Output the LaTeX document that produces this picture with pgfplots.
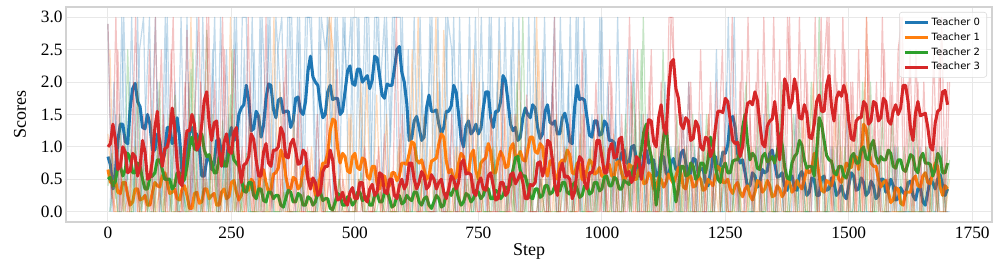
\documentclass[border=0pt]{standalone}
\usepackage{pgfplots}
\usepackage{pgfplotstable}
\pgfplotsset{compat=1.18}
\usepackage{fontspec}
\setmainfont{Liberation Serif}
\newfontfamily\legfont{DejaVu Sans}
\definecolor{c0}{HTML}{1F77B4}
\definecolor{c1}{HTML}{FF7F0E}
\definecolor{c2}{HTML}{2CA02C}
\definecolor{c3}{HTML}{D62728}

\pgfplotstableread[row sep=\\]{
step t0 t1 t2 t3\\
0 0.85 0.65 0.5 1.0\\
5 0.72 0.45 0.53 1.05\\
10 0.35 0.45 0.4 1.35\\
15 0.60 0.48 0.47 1.12\\
20 1.1 0.3 0.7 0.65\\
25 1.35 0.28 0.70 0.70\\
30 1.35 0.45 0.55 1.0\\
35 1.08 0.45 0.65 0.92\\
40 1.05 0.25 0.9 0.6\\
45 1.60 0.10 0.83 0.63\\
50 1.9 0.15 0.6 0.9\\
55 1.98 0.35 0.60 0.85\\
60 1.7 0.35 0.75 0.55\\
65 1.62 0.18 0.70 0.70\\
70 1.3 0.2 0.5 1.1\\
75 1.28 0.25 0.35 0.92\\
80 1.5 0.1 0.35 0.5\\
85 1.35 0.10 0.53 0.53\\
90 0.95 0.3 0.55 0.8\\
95 0.95 0.45 0.60 1.30\\
100 1.2 0.4 0.8 1.55\\
105 1.10 0.38 0.80 1.0\\
110 0.75 0.55 0.65 0.7\\
115 0.90 0.60 0.50 0.97\\
120 1.3 0.45 0.5 1.0\\
125 1.30 0.28 0.50 1.18\\
130 1.05 0.3 0.35 1.6\\
135 1.13 0.35 0.40 1.30\\
140 1.45 0.2 0.6 0.75\\
145 1.15 0.18 0.60 0.45\\
150 0.6 0.35 0.45 0.4\\
155 0.63 0.40 0.50 0.95\\
160 0.9 0.25 0.7 1.25\\
165 1.22 0.05 1.0 1.25\\
170 1.3 0.05 1.15 1.5\\
175 1.13 0.28 0.97 1.35\\
180 1.2 0.3 0.95 0.95\\
185 1.0 0.13 1.15 1.03\\
190 0.55 0.15 1.2 1.35\\
195 0.55 0.35 0.95 1.72\\
200 0.8 0.35 0.85 1.85\\
205 0.85 0.20 0.88 1.35\\
210 0.65 0.25 0.75 1.1\\
215 0.75 0.28 0.60 1.37\\
220 1.1 0.1 0.6 1.4\\
225 1.12 0.10 0.83 0.93\\
230 0.9 0.3 0.9 0.7\\
235 0.70 0.35 0.72 1.07\\
240 0.75 0.2 0.7 1.2\\
245 1.15 0.23 0.93 0.93\\
250 1.3 0.45 1.0 0.9\\
255 1.10 0.48 0.80 1.22\\
260 1.15 0.3 0.75 1.3\\
265 1.50 0.18 0.70 0.75\\
270 1.6 0.25 0.5 0.45\\
275 1.65 0.40 0.32 0.72\\
280 1.95 0.35 0.3 0.75\\
285 1.72 0.33 0.45 0.85\\
290 1.25 0.5 0.45 1.2\\
295 1.28 0.45 0.25 1.12\\
300 1.55 0.2 0.2 0.8\\
305 1.47 0.33 0.35 0.55\\
310 1.15 0.65 0.35 0.55\\
315 1.33 0.65 0.17 0.92\\
320 1.75 0.45 0.15 1.05\\
325 1.97 0.30 0.30 0.75\\
330 1.95 0.35 0.3 0.7\\
335 1.58 0.58 0.20 0.95\\
340 1.45 0.6 0.25 0.95\\
345 1.72 0.68 0.25 1.0\\
350 1.75 0.95 0.1 1.3\\
355 1.53 0.85 0.07 1.20\\
360 1.55 0.55 0.2 0.85\\
365 1.55 0.35 0.33 0.83\\
370 1.3 0.35 0.3 1.05\\
375 1.40 0.53 0.15 1.12\\
380 1.75 0.5 0.15 0.95\\
385 1.77 0.35 0.28 0.73\\
390 1.55 0.4 0.25 0.75\\
395 1.50 0.65 0.10 0.95\\
400 1.7 0.7 0.1 0.9\\
405 2.17 0.50 0.23 0.50\\
410 2.4 0.5 0.2 0.35\\
415 2.08 0.48 0.10 0.52\\
420 2.0 0.25 0.15 0.45\\
425 1.95 0.30 0.30 0.25\\
430 1.65 0.55 0.3 0.3\\
435 1.45 0.75 0.17 0.62\\
440 1.5 0.75 0.2 0.7\\
445 1.85 0.90 0.20 0.70\\
450 1.95 1.25 0.05 0.95\\
455 1.73 1.43 0.03 0.80\\
460 1.75 1.4 0.15 0.4\\
465 1.75 0.98 0.28 0.18\\
470 1.5 0.75 0.25 0.2\\
475 1.55 0.90 0.10 0.30\\
480 1.85 0.85 0.1 0.15\\
485 2.17 0.63 0.23 0.10\\
490 2.25 0.6 0.2 0.3\\
495 1.98 0.85 0.10 0.37\\
500 1.95 0.9 0.15 0.2\\
505 2.20 0.68 0.30 0.20\\
510 2.2 0.65 0.3 0.45\\
515 2.00 0.83 0.17 0.45\\
520 2.05 0.8 0.2 0.2\\
525 2.10 0.55 0.23 0.15\\
530 1.9 0.5 0.1 0.35\\
535 2.03 0.70 0.10 0.42\\
540 2.4 0.7 0.25 0.25\\
545 2.37 0.43 0.28 0.30\\
550 2.1 0.35 0.15 0.6\\
555 1.80 0.55 0.15 0.57\\
560 1.75 0.55 0.3 0.3\\
565 1.97 0.38 0.33 0.28\\
570 1.95 0.4 0.2 0.5\\
575 1.95 0.60 0.07 0.50\\
580 2.2 0.6 0.1 0.25\\
585 2.50 0.48 0.25 0.20\\
590 2.55 0.55 0.25 0.4\\
595 2.15 0.75 0.12 0.50\\
600 2.0 0.75 0.15 0.35\\
605 1.67 0.73 0.25 0.43\\
610 1.1 0.9 0.2 0.75\\
615 1.13 1.08 0.17 0.75\\
620 1.4 1.05 0.3 0.5\\
625 1.47 0.80 0.30 0.35\\
630 1.3 0.75 0.15 0.45\\
635 1.10 0.80 0.10 0.62\\
640 1.15 0.65 0.2 0.55\\
645 1.60 0.50 0.23 0.35\\
650 1.8 0.55 0.1 0.4\\
655 1.55 0.78 0.05 0.57\\
660 1.55 0.8 0.15 0.5\\
665 1.57 0.83 0.25 0.35\\
670 1.35 1.05 0.2 0.45\\
675 1.20 1.20 0.07 0.50\\
680 1.3 1.15 0.1 0.3\\
685 1.55 0.78 0.28 0.20\\
690 1.55 0.6 0.3 0.35\\
695 1.63 0.65 0.25 0.55\\
700 1.95 0.5 0.35 0.5\\
705 1.85 0.53 0.35 0.35\\
710 1.5 0.75 0.2 0.45\\
715 1.13 0.90 0.10 0.75\\
720 1.0 0.85 0.15 0.8\\
725 1.32 0.63 0.28 0.58\\
730 1.4 0.6 0.25 0.6\\
735 1.20 0.88 0.15 0.57\\
740 1.25 0.95 0.2 0.3\\
745 1.35 0.63 0.33 0.25\\
750 1.2 0.5 0.3 0.45\\
755 1.28 0.75 0.20 0.52\\
760 1.6 0.8 0.25 0.35\\
765 1.85 0.83 0.38 0.33\\
770 1.85 1.05 0.35 0.55\\
775 1.45 0.93 0.20 0.60\\
780 1.3 0.6 0.2 0.4\\
785 1.55 0.60 0.33 0.18\\
790 1.55 0.8 0.3 0.2\\
795 1.70 0.93 0.20 0.45\\
800 2.1 0.85 0.25 0.45\\
805 2.02 0.68 0.38 0.25\\
810 1.7 0.7 0.35 0.3\\
815 1.35 0.98 0.42 0.57\\
820 1.25 1.05 0.65 0.6\\
825 1.30 0.85 0.83 0.43\\
830 1.1 0.85 0.85 0.5\\
835 1.15 0.93 0.62 0.60\\
840 1.45 0.8 0.55 0.45\\
845 1.60 0.78 0.55 0.20\\
850 1.5 0.95 0.4 0.2\\
855 1.45 1.15 0.22 0.42\\
860 1.65 1.15 0.2 0.4\\
865 1.60 0.93 0.35 0.45\\
870 1.3 0.9 0.35 0.75\\
875 1.13 1.05 0.22 0.77\\
880 1.2 1.0 0.25 0.55\\
885 1.55 0.68 0.40 0.70\\
890 1.65 0.55 0.4 1.1\\
895 1.38 0.78 0.27 1.07\\
900 1.35 0.8 0.3 0.8\\
905 1.40 0.55 0.40 0.40\\
910 1.2 0.5 0.35 0.25\\
915 1.20 0.75 0.32 0.62\\
920 1.45 0.8 0.45 0.75\\
925 1.52 0.78 0.45 0.53\\
930 1.35 0.95 0.3 0.55\\
935 1.08 0.88 0.27 0.50\\
940 1.05 0.6 0.4 0.2\\
945 1.62 0.58 0.45 0.30\\
950 1.95 0.75 0.35 0.65\\
955 1.73 0.73 0.22 0.85\\
960 1.75 0.5 0.25 0.8\\
965 1.72 0.48 0.40 0.45\\
970 1.45 0.65 0.4 0.35\\
975 1.18 0.80 0.27 0.60\\
980 1.15 0.75 0.3 0.6\\
985 1.40 0.58 0.45 0.73\\
990 1.4 0.6 0.45 1.1\\
995 1.18 0.68 0.32 1.10\\
1000 1.2 0.55 0.35 0.85\\
1005 1.40 0.53 0.53 0.60\\
1010 1.35 0.7 0.55 0.6\\
1015 1.10 0.73 0.40 0.95\\
1020 1.1 0.55 0.4 1.05\\
1025 1.07 0.55 0.53 0.83\\
1030 0.8 0.75 0.5 0.85\\
1035 0.73 0.78 0.35 1.12\\
1040 0.9 0.6 0.35 1.15\\
1045 0.95 0.48 0.48 0.73\\
1050 0.75 0.55 0.45 0.55\\
1055 0.75 0.73 0.42 0.62\\
1060 1.0 0.7 0.55 0.45\\
1065 1.02 0.50 0.70 0.53\\
1070 0.8 0.5 0.7 0.85\\
1075 0.55 0.65 0.75 0.80\\
1080 0.55 0.6 0.95 0.5\\
1085 0.87 0.43 1.23 0.73\\
1090 0.95 0.45 1.35 1.2\\
1095 0.75 0.60 1.02 1.42\\
1100 0.8 0.55 0.85 1.4\\
1105 0.80 0.35 0.55 1.08\\
1110 0.55 0.35 0.1 1.0\\
1115 0.58 0.53 0.37 1.45\\
1120 0.85 0.5 0.8 1.65\\
1125 0.85 0.38 1.15 1.30\\
1130 0.6 0.45 1.35 1.2\\
1135 0.55 0.58 0.90 1.87\\
1140 0.75 0.5 0.6 2.3\\
1145 0.82 0.43 0.45 2.35\\
1150 0.65 0.55 0.15 1.9\\
1155 0.65 0.68 0.35 1.75\\
1160 0.9 0.6 0.7 1.35\\
1165 0.95 0.38 0.70 1.28\\
1170 0.75 0.35 0.55 1.45\\
1175 0.55 0.55 0.57 1.40\\
1180 0.6 0.55 0.75 1.1\\
1185 0.82 0.38 0.70 1.13\\
1190 0.8 0.4 0.5 1.4\\
1195 0.60 0.55 0.55 1.32\\
1200 0.65 0.5 0.75 1.0\\
1205 0.67 0.33 0.75 0.95\\
1210 0.45 0.35 0.6 1.15\\
1215 0.40 0.50 0.80 1.12\\
1220 0.6 0.45 1.15 0.85\\
1225 0.85 0.40 1.0 0.95\\
1230 0.85 0.55 0.7 1.3\\
1235 0.65 0.70 0.50 1.55\\
1240 0.7 0.65 0.45 1.55\\
1245 0.92 0.45 0.68 1.53\\
1250 0.9 0.45 0.75 1.75\\
1255 1.03 0.50 0.60 1.70\\
1260 1.4 0.35 0.6 1.4\\
1265 1.47 0.28 0.78 1.10\\
1270 1.3 0.4 0.8 1.05\\
1275 0.90 0.45 0.80 1.07\\
1280 0.75 0.3 0.95 0.85\\
1285 0.80 0.23 1.30 1.0\\
1290 0.6 0.35 1.5 1.4\\
1295 0.38 0.40 1.07 1.67\\
1300 0.4 0.25 0.8 1.7\\
1305 0.60 0.18 0.90 1.65\\
1310 0.55 0.3 0.85 1.85\\
1315 0.38 0.48 0.67 1.72\\
1320 0.45 0.45 0.65 1.35\\
1325 0.65 0.30 0.85 1.05\\
1330 0.6 0.35 0.9 1.0\\
1335 0.63 0.48 0.77 1.32\\
1340 0.9 0.4 0.8 1.4\\
1345 0.95 0.23 0.85 1.43\\
1350 0.75 0.25 0.75 1.7\\
1355 0.53 0.40 0.90 1.37\\
1360 0.55 0.35 1.2 0.8\\
1365 0.60 0.23 1.03 1.30\\
1370 0.4 0.3 0.7 2.05\\
1375 0.33 0.48 0.52 1.95\\
1380 0.5 0.45 0.5 1.6\\
1385 0.55 0.30 0.75 1.70\\
1390 0.35 0.35 0.85 2.05\\
1395 0.33 0.48 0.90 1.87\\
1400 0.55 0.4 1.1 1.45\\
1405 0.62 0.35 1.03 1.43\\
1410 0.45 0.5 0.8 1.65\\
1415 0.25 0.65 0.67 1.52\\
1420 0.3 0.6 0.7 1.15\\
1425 0.52 0.65 0.70 1.13\\
1430 0.5 0.9 0.55 1.35\\
1435 0.25 0.83 0.92 1.70\\
1440 0.25 0.55 1.45 1.8\\
1445 0.52 0.33 1.35 1.55\\
1450 0.55 0.3 1.1 1.55\\
1455 0.33 0.48 0.87 1.95\\
1460 0.35 0.45 0.8 2.1\\
1465 0.52 0.40 0.78 1.63\\
1470 0.45 0.55 0.6 1.4\\
1475 0.25 0.63 0.57 1.75\\
1480 0.3 0.5 0.7 1.85\\
1485 0.40 0.45 0.70 1.78\\
1490 0.25 0.6 0.55 1.95\\
1495 0.20 0.75 0.52 1.80\\
1500 0.4 0.7 0.65 1.4\\
1505 0.60 0.68 0.85 1.13\\
1510 0.55 0.85 0.9 1.1\\
1515 0.33 0.85 0.75 1.40\\
1520 0.35 0.65 0.75 1.45\\
1525 0.52 0.90 0.95 1.45\\
1530 0.45 1.35 1.0 1.7\\
1535 0.25 1.28 0.82 1.65\\
1540 0.3 1.0 0.8 1.35\\
1545 0.47 0.75 1.03 1.40\\
1550 0.4 0.7 1.1 1.7\\
1555 0.20 0.70 0.85 1.67\\
1560 0.25 0.5 0.75 1.4\\
1565 0.50 0.38 0.85 1.45\\
1570 0.5 0.45 0.8 1.75\\
1575 0.30 0.48 0.80 1.70\\
1580 0.35 0.3 0.95 1.4\\
1585 0.50 0.14 0.90 1.35\\
1590 0.4 0.18 0.7 1.55\\
1595 0.18 0.37 0.67 1.65\\
1600 0.2 0.35 0.8 1.5\\
1605 0.37 0.13 0.80 1.60\\
1610 0.3 0.1 0.65 1.95\\
1615 0.25 0.30 0.62 1.95\\
1620 0.45 0.3 0.75 1.7\\
1625 0.47 0.30 0.88 1.28\\
1630 0.25 0.5 0.85 1.1\\
1635 0.18 0.55 0.65 1.52\\
1640 0.35 0.4 0.6 1.7\\
1645 0.37 0.38 0.83 1.48\\
1650 0.15 0.55 0.9 1.5\\
1655 0.10 0.60 0.75 1.52\\
1660 0.3 0.45 0.75 1.3\\
1665 0.50 0.43 0.73 1.0\\
1670 0.45 0.6 0.55 0.95\\
1675 0.35 0.75 0.65 1.37\\
1680 0.5 0.7 0.9 1.55\\
1685 0.57 0.38 0.83 1.58\\
1690 0.4 0.25 0.6 1.85\\
1695 0.25 0.40 0.60 1.87\\
1700 0.35 0.35 0.75 1.65\\
}\smooth

\pgfplotstableread[row sep=\\]{
step r0 r1 r2 r3\\
0 2.9 1.2 0.4 2.9\\
8 0 0.3 0.9 0.2\\
16 1.5 0 0.2 3\\
24 0 0.8 1.5 0\\
32 3 0 0 1.2\\
40 0.5 0.2 2.5 0\\
48 3 0 0 0.8\\
56 0 0.5 1 3\\
64 2.5 0 0 0\\
72 3 0.2 0.8 1.5\\
80 0 0 0 0.3\\
88 1 1.5 0.5 0\\
96 3 0 0 3\\
104 0 0.3 2 0\\
112 0.5 0 0 1.5\\
120 3 1 0.6 0\\
128 0 0 0 2.5\\
136 2 0 1.8 0\\
144 0 0.4 0 1\\
152 0 0 0.3 0\\
160 3 0 0 2.8\\
168 0 3 2.2 0\\
176 1.5 0 0 1.5\\
184 0 0.2 1.5 3\\
192 3 0 0 0\\
200 0 0.5 2.8 3\\
208 1 0 0 0.5\\
216 3 0 0.9 2\\
224 0 0.8 0 0\\
232 0.3 0 1.4 3\\
240 2.5 0 0 0\\
248 0 3 1.8 1\\
256 3 0 0 2.5\\
264 0 0.2 0.5 0\\
272 3 0 0 1\\
280 3 0 0.9 0\\
288 0 1.5 0 2\\
296 2.5 0 0 0\\
304 0 0 0.4 1.5\\
312 3 0.8 0 0\\
320 1.5 0 0 3\\
328 3 0 0.6 0\\
336 0 3 0 0.5\\
344 2.5 0 0 1\\
352 3 0.5 0 0\\
360 0 0 0.3 2.5\\
368 3 0 0 0\\
376 1 1.5 0 0\\
384 3 0 0 1.5\\
392 0 0 0.5 0\\
400 3 0.8 0 0\\
408 3 0 0 0.8\\
416 2 0 0 0\\
424 0 0.5 0 1.5\\
432 3 0 0.4 0\\
440 2.5 0 0 0\\
448 3 3 0 0.5\\
456 0 2.5 0 0\\
464 3 0 0 2.2\\
472 1.5 0.8 0 0\\
480 3 0 0.2 0\\
488 0 1.5 0 0\\
496 3 0 0 0.3\\
504 3 0 0 0\\
512 0.5 2 0.6 0\\
520 3 0 0 1\\
528 3 0.5 0 0\\
536 0 0 0 0\\
544 3 1.8 0 0.8\\
552 2 0 0.3 0\\
560 3 0 0 1.2\\
568 0 0.6 0 0\\
576 3 0 0 0\\
584 3 0 0 3\\
592 3 1.2 0.5 0\\
600 0 0 0 0.4\\
608 2.5 0 0 0\\
616 0 2.5 0 1\\
624 0.5 0 1 0\\
632 3 0 0 0\\
640 0 1.5 0 0.8\\
648 1.5 0 0 0\\
656 3 0.8 0 0\\
664 0 3 0.5 0\\
672 2 0 0 1.2\\
680 0 2.8 0 0\\
688 3 0 0 0\\
696 2.5 0 0.6 1.5\\
704 0 1 0 0\\
712 3 0 0 0\\
720 0 0 0 1\\
728 1.5 1.8 0.5 0\\
736 0 0 0 2\\
744 3 0.5 0 0\\
752 0 2 1 0\\
760 2 0 0 0.8\\
768 0 0 0 0\\
776 3 1.5 0 1.5\\
784 0 0 0.8 0\\
792 3 2.5 0 0\\
800 1 0 0 2\\
808 0 0 0 0\\
816 2.5 1.5 0.6 0\\
824 0 0 0 1.5\\
832 3 2.5 0 0\\
840 0 0 3 0\\
848 1.5 1 0 1.8\\
856 0 0 0 0\\
864 3 0.8 0.8 0\\
872 0 2.5 0 0\\
880 2.5 0 0 2\\
888 0 0 0.5 0\\
896 1 1.5 0 0\\
904 3 0 0 3\\
912 0 0 0 0\\
920 2.5 1.5 0.6 0\\
928 0 0 1 0\\
936 3 1.2 0 1.5\\
944 0 0 0 0\\
952 3 0 0.5 0\\
960 0 1.5 0 2.5\\
968 2.5 0 0 0\\
976 0 0 1 0\\
984 1 1.2 0 0\\
992 0 0 0.5 1.5\\
1000 3 1.5 1.5 0\\
1008 0 0 0 0\\
1016 1.5 0 0 2.5\\
1024 0 1.2 0.8 0\\
1032 3 0 0 0\\
1040 0 0 0 1.5\\
1048 1 1 1.5 0\\
1056 0 0 0 3\\
1064 2.5 0.8 2 0\\
1072 0 0 0 2.5\\
1080 1.5 0 2.5 0\\
1088 0 1 0 0\\
1096 1 0 0 2\\
1104 0 0 0.8 0\\
1112 0.5 1.2 0 0\\
1120 0 0 0 2\\
1128 2 0 1 0\\
1136 0 0 0 3\\
1144 0 0.5 0 3\\
1152 1 0 1.5 0\\
1160 0 0 0 1.5\\
1168 0 1 0.8 0\\
1176 2 0 0 2\\
1184 0 0 1.5 0\\
1192 0 0.8 0 0\\
1200 1.5 0 0 2.5\\
1208 0 0 1 0\\
1216 0 1.5 0 1.5\\
1224 0 0 0 0\\
1232 2.5 0 1.5 2\\
1240 0 0 0 0\\
1248 0 1 0.5 1\\
1256 3 0 0 0\\
1264 0 0 0 3\\
1272 0.5 1.5 1 0\\
1280 0 0 0 2\\
1288 0 0 1.5 0\\
1296 1 0 0 3\\
1304 0 1 0 0\\
1312 0 0 1 2\\
1320 0 0 0 0\\
1328 1.5 0 0 3\\
1336 0 1.5 2 0\\
1344 0 0 0 1.5\\
1352 0 0 0 0\\
1360 1 0 1.5 2.5\\
1368 0 1 0 0\\
1376 0 0 0 3\\
1384 0 0 1 1.5\\
1392 1.5 0 0 0\\
1400 0 0 1.5 3\\
1408 0 1.5 0 0\\
1416 0 0 0 2\\
1424 0 0 2 0\\
1432 1 0 0 3\\
1440 0 0 3 0\\
1448 0 1 0 2\\
1456 0 0 0 3\\
1464 1 0 0.5 0\\
1472 0 1.5 0 2.5\\
1480 0 0 1.5 0\\
1488 0 0 0 3\\
1496 1.5 2 0 0\\
1504 0 0 1 2\\
1512 0 0 0 0\\
1520 0 1 0 2.5\\
1528 1 0 2 0\\
1536 0 3 0 3\\
1544 0 0 2 0\\
1552 0 0 0 1.5\\
1560 1 0.5 0 0\\
1568 0 0 1.5 3\\
1576 0 0 0 0\\
1584 0 0 1 2\\
1592 1 0 0 0\\
1600 0 0 1 2.5\\
1608 0 0 0 3\\
1616 0 0.5 0 0\\
1624 0 0 1.5 2.5\\
1632 1 0 0 0\\
1640 0 1 0 2\\
1648 0 0 0 0\\
1656 0 0 1 1\\
1664 1 0 0 0\\
1672 0 1 0.5 2.5\\
1680 0 0 0 0\\
1688 1 0 1 3\\
1696 0 0 0 0\\
1704 0 0.5 0.8 2\\
}\raw

\pgfplotstableread[row sep=\\]{
step r0 r1 r2 r3\\
4 0 2.5 0 0.5\\
12 2 0 0.5 0\\
20 0 0 0 2.5\\
28 3 0.5 0 0\\
36 0 0 1 0.5\\
44 2 0 0 0\\
52 0 1 0 2\\
60 3 0 2 0\\
68 0 0 0 1\\
76 1.5 0 0.5 0\\
84 3 0.5 0 2.5\\
92 0 0 0 0\\
100 2 0 1 0.5\\
108 0 0.8 0 2.5\\
116 3 0 0 0\\
124 0 0 1.5 1\\
132 1.5 0.5 0 3\\
140 0 0 0 0\\
148 3 0 1 0\\
156 0 1.2 0 2\\
164 2 0 0 0\\
172 0 0 2.5 1\\
180 3 0.5 0 0\\
188 0 0 0 2\\
196 1 0 0.5 0\\
204 0 0 0 3\\
212 2.5 1 1.5 0\\
220 0 0 0 1\\
228 3 0 0 0\\
236 0 0.5 1 2.5\\
244 1.5 0 0 0\\
252 0 0 2.5 1.5\\
260 3 1 0 0\\
268 0 0 0 0.5\\
276 2.5 0 0.5 0\\
284 0 0.5 0 3\\
292 3 0 0 0\\
300 0 0 0 1\\
308 3 1.5 0 0\\
316 0 0 0.5 0\\
324 3 0 0 2\\
332 0 0.5 0 0\\
340 3 0 0 1\\
348 2 2 0 0\\
356 0 0 0.3 2\\
364 3 0 0 0\\
372 3 0 0 0.5\\
380 0 1 0 0\\
388 3 0 0 2\\
396 0 0 0.3 0\\
404 3 0 0 1\\
412 3 1 0 0\\
420 0 0 0 0\\
428 3 0 0.3 0.8\\
436 0 0.5 0 0\\
444 3 0 0 1.5\\
452 1 3 0 0\\
460 3 0 0 0\\
468 0 0.5 0.5 0\\
476 3 0 0 0.5\\
484 2 0 0 0\\
492 3 1.5 0 0\\
500 0 0 0 0\\
508 3 0.5 0.5 0.5\\
516 0 0 0 0\\
524 3 2 0 0\\
532 0.5 0 0.3 0\\
540 3 0 0 0\\
548 3 0.5 0 1\\
556 0 0 0 0\\
564 3 1.5 0.3 0\\
572 1 0 0 0.5\\
580 3 0 0 0\\
588 0 1 0 0\\
596 3 0 0 1.5\\
604 0 0 0.5 0\\
612 0.5 1.5 0 0\\
620 3 0 0 1\\
628 0 3 0 0\\
636 2 0 0.5 0\\
644 0 0 0 0.5\\
652 3 1 0 0\\
660 0 0 0 0\\
668 3 2 0 0.5\\
676 0 0 0.5 0\\
684 3 1.5 0 0\\
692 0 0 0 1\\
700 3 0 0 0\\
708 0 1 0.5 0\\
716 2 0 0 1.5\\
724 0 0.5 0 0\\
732 3 0 0 0\\
740 0 2.5 0 0.5\\
748 1 0 0.5 0\\
756 3 0 0 0\\
764 0 1 0 1\\
772 3 0 0 0\\
780 0 0 1 0\\
788 2 1 0 0\\
796 0 0 0 1\\
804 3 1.5 0 0\\
812 0 0 0.5 0\\
820 3 0 0 0.5\\
828 0 1.5 2 0\\
836 1 0 0 0\\
844 0 0 0 1\\
852 3 1.5 0.5 0\\
860 0 0 0 0\\
868 2 3 0 0\\
876 0 0 0.5 0.5\\
884 3 1 0 0\\
892 0 0 0 0\\
900 2 0 1 2\\
908 0 1.5 0 0\\
916 3 0 0 0\\
924 0 0 0.5 1\\
932 2 1 0 0\\
940 0 0 0 0\\
948 3 0 1 0.5\\
956 0 1.2 0 0\\
964 3 0 0 1.5\\
972 0 0 0.5 0\\
980 1.5 1 0 0\\
988 0 0 0 2\\
996 3 0 0.5 0\\
1004 0 1 0 0.5\\
1012 2 0 1 0\\
1020 0 0 0 2\\
1028 1.5 1 0 0\\
1036 0 0 1 1\\
1044 0 0 0 0\\
1052 2.5 1 0.5 0\\
1060 0 0 0 2\\
1068 1 0 1.5 0\\
1076 0 1 0 0\\
1084 0 0 3 1.5\\
1092 1.5 0 0 0\\
1100 0 0.5 0 2.5\\
1108 0 0 1 0\\
1116 1 0 0 0\\
1124 0 1 2.5 1.5\\
1132 0 0 0 0\\
1140 1 0 0 3\\
1148 0 0 1 2\\
1156 0 1 0 0\\
1164 1.5 0 0 1.5\\
1172 0 0 1 0\\
1180 0 0.5 0 2\\
1188 1 0 0 0\\
1196 0 0 1 1\\
1204 0 1 0 0\\
1212 0 0 1.5 0\\
1220 1 0 0 2\\
1228 0 0.5 0 0\\
1236 0 0 1 1\\
1244 0 1 0 2.5\\
1252 2 0 0 0\\
1260 0 0 1.5 0\\
1268 3 0 0 1.5\\
1276 0 0.5 0 0\\
1284 0 0 1 2.5\\
1292 0 0 2 0\\
1300 0 0.5 0 1.5\\
1308 0 0 0 0\\
1316 1 0 1.5 2.5\\
1324 0 0.5 0 0\\
1332 0 0 0 2\\
1340 1.5 0 1 0\\
1348 0 0 0 3\\
1356 0 0.5 0 0\\
1364 0 0 2 1.5\\
1372 1 0 0 0\\
1380 0 0 0 3\\
1388 0 0.5 1.5 0\\
1396 0 0 0 2\\
1404 1 0 1 0\\
1412 0 0 0 2.5\\
1420 0 1 0 0\\
1428 0 2 1 1.5\\
1436 0 0 0 0\\
1444 1 0 2 3\\
1452 0 0 0 0\\
1460 0 0.5 0 3\\
1468 0 0 1 0\\
1476 1 0 0 2\\
1484 0 1 0 0\\
1492 0 0 1 2.5\\
1500 0 0 0 0\\
1508 0 1.5 0 2\\
1516 1 0 1.5 0\\
1524 0 0 0 1.5\\
1532 0 2 0 0\\
1540 0 0 1.5 2.5\\
1548 0 0 0 0\\
1556 1 0.5 0 2\\
1564 0 0 1 0\\
1572 0 0 0 2.5\\
1580 0 0.5 0 0\\
1588 0 0 1.5 2\\
1596 1 0 0 0\\
1604 0 0 0 3\\
1612 0 0 1 0\\
1620 0 0.5 0 2\\
1628 0 0 0 0\\
1636 0 0 1.5 2.5\\
1644 1 0 0 0\\
1652 0 0.5 0 2\\
1660 0 0 1 0\\
1668 0 0 0 1.5\\
1676 1 0.5 0 0\\
1684 0 0 1 2.5\\
1692 0 0 0 0\\
1700 0 0 1 2\\
}\rawb

\begin{document}
\begin{tikzpicture}
\useasboundingbox (-49.5pt,-30.75pt) rectangle (698.25pt,166.5pt);
\begin{axis}[
  scale only axis,
  width=694.5pt, height=161.25pt,
  xmin=-85, xmax=1790, ymin=-0.16, ymax=3.16,
  xtick={0,250,...,1750},
  ytick={0,0.5,...,3},
  yticklabel style={/pgf/number format/fixed, /pgf/number format/fixed zerofill, /pgf/number format/precision=1, xshift=1pt},
  /pgf/number format/assume math mode=true,
  /pgf/number format/set thousands separator={},
  tick label style={font=\fontsize{13}{15}\selectfont},
  label style={font=\fontsize{13.5}{16}\selectfont},
  xlabel={Step}, ylabel={Scores},
  xlabel style={at={(axis description cs:0.5,-0.137)}, anchor=center},
  ylabel style={at={(axis description cs:-0.0497,0.5)}, anchor=center},
  major tick length=0pt,
  grid=major,
  major grid style={draw=gray!18, line width=0.75pt},
  axis line style={draw=gray!35, line width=0.8pt},
  legend cell align=left,
  legend style={at={(1,1)}, anchor=north east, xshift=-3.75pt, yshift=-3.75pt,
    draw=gray!30, rounded corners=2pt, fill=white, fill opacity=0.8, text opacity=1,
    font=\legfont\fontsize{7.5}{9}\selectfont, row sep=0pt, inner xsep=3pt, inner ysep=2pt},
  legend image code/.code={\draw[#1] (0pt,0pt) -- (17pt,0pt);},
  every axis plot/.append style={line join=round},
]
\addplot[forget plot, c0, line width=0.9pt, draw opacity=0.27] table[x=step,y=r0]{\raw};
\addplot[forget plot, c0, line width=0.9pt, draw opacity=0.27] table[x=step,y=r0]{\rawb};
\addplot[c0, line width=2.3pt] table[x=step,y=t0]{\smooth};
\addlegendentry{Teacher 0}
\addplot[forget plot, c1, line width=0.9pt, draw opacity=0.27] table[x=step,y=r1]{\raw};
\addplot[forget plot, c1, line width=0.9pt, draw opacity=0.27] table[x=step,y=r1]{\rawb};
\addplot[c1, line width=2.3pt] table[x=step,y=t1]{\smooth};
\addlegendentry{Teacher 1}
\addplot[forget plot, c2, line width=0.9pt, draw opacity=0.27] table[x=step,y=r2]{\raw};
\addplot[forget plot, c2, line width=0.9pt, draw opacity=0.27] table[x=step,y=r2]{\rawb};
\addplot[c2, line width=2.3pt] table[x=step,y=t2]{\smooth};
\addlegendentry{Teacher 2}
\addplot[forget plot, c3, line width=0.9pt, draw opacity=0.27] table[x=step,y=r3]{\raw};
\addplot[forget plot, c3, line width=0.9pt, draw opacity=0.27] table[x=step,y=r3]{\rawb};
\addplot[c3, line width=2.3pt] table[x=step,y=t3]{\smooth};
\addlegendentry{Teacher 3}
\end{axis}
\end{tikzpicture}
\end{document}
